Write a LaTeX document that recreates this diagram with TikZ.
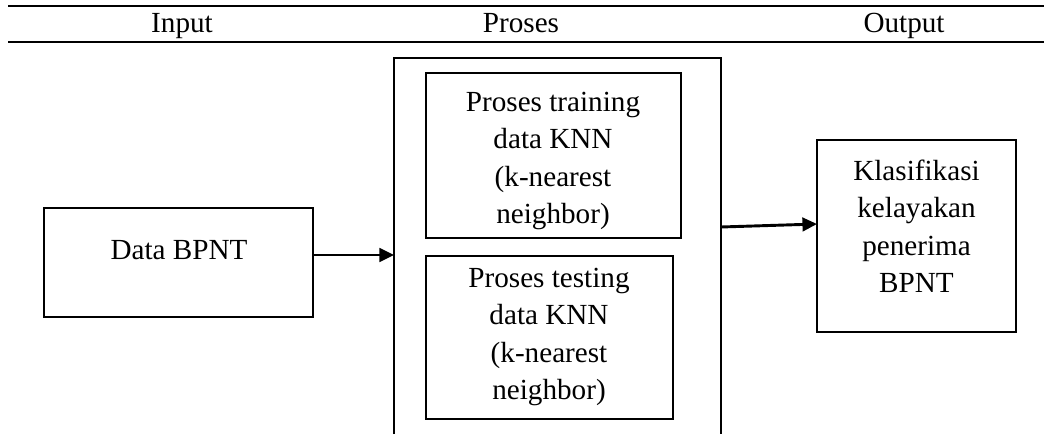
\documentclass[tikz,border=0pt]{standalone}
\usepackage{fontspec}
\setmainfont{Liberation Serif}
\usetikzlibrary{fit,arrows.meta}
\tikzset{
  px/.style={x=0.48pt,y=-0.48pt},
  box/.style={draw,line width=1.4pt,inner sep=0pt,rectangle},
  lbl/.style={align=center,font=\fontsize{14}{18}\selectfont,inner sep=0pt},
  hdr/.style={font=\fontsize{14}{16}\selectfont,inner sep=0pt,anchor=base},
  rule/.style={line width=1.4pt},
  arr/.style={line width=1.4pt,-{Triangle[length=7pt,width=6.5pt]}}
}
\begin{document}
\begin{tikzpicture}[px]
\useasboundingbox (0,0) rectangle (1044,434);
% table rules
\coordinate (r1a) at (8,6); \coordinate (r1b) at (1044,6);
\coordinate (r2a) at (8,42); \coordinate (r2b) at (1044,42);
\draw[rule] (r1a) -- (r1b);
\draw[rule] (r2a) -- (r2b);
% headers
\node[hdr] (hin) at (182,32) {Input};
\node[hdr] (hpr) at (521,32) {Proses};
\node[hdr] (hout) at (904,32) {Output};
% input box
\node[box,fit={(44,208)(313,317)}] (data) {};
\node[lbl] (datat) at (179,250) {Data BPNT};
% process outer frame (open at bottom)
\coordinate (pbl) at (394,434); \coordinate (ptl) at (394,58);
\coordinate (ptr) at (721,58); \coordinate (pbr) at (721,434);
\draw[box] (pbl) -- (ptl) -- (ptr) -- (pbr);
% inner boxes
\node[box,fit={(426,73)(681,238)}] (train) {};
\node[lbl] (traint) at (553,161) {Proses training\\data KNN\\(k-nearest\\neighbor)};
\node[box,fit={(426,256)(673,419)}] (test) {};
\node[lbl] (testt) at (549,337) {Proses testing\\data KNN\\(k-nearest\\neighbor)};
% output box
\node[box,fit={(817,140)(1016,332)}] (out) {};
\node[lbl] (outt) at (916.5,226.5) {Klasifikasi\\kelayakan\\penerima\\BPNT};
% connectors
\coordinate (pin) at (394,255);
\draw[arr] (data.east |- pin) -- (pin);
\coordinate (pout) at (721,227);
\coordinate (oin) at (817,224);
\draw[arr] (pout) -- (oin);
\end{tikzpicture}
\end{document}
